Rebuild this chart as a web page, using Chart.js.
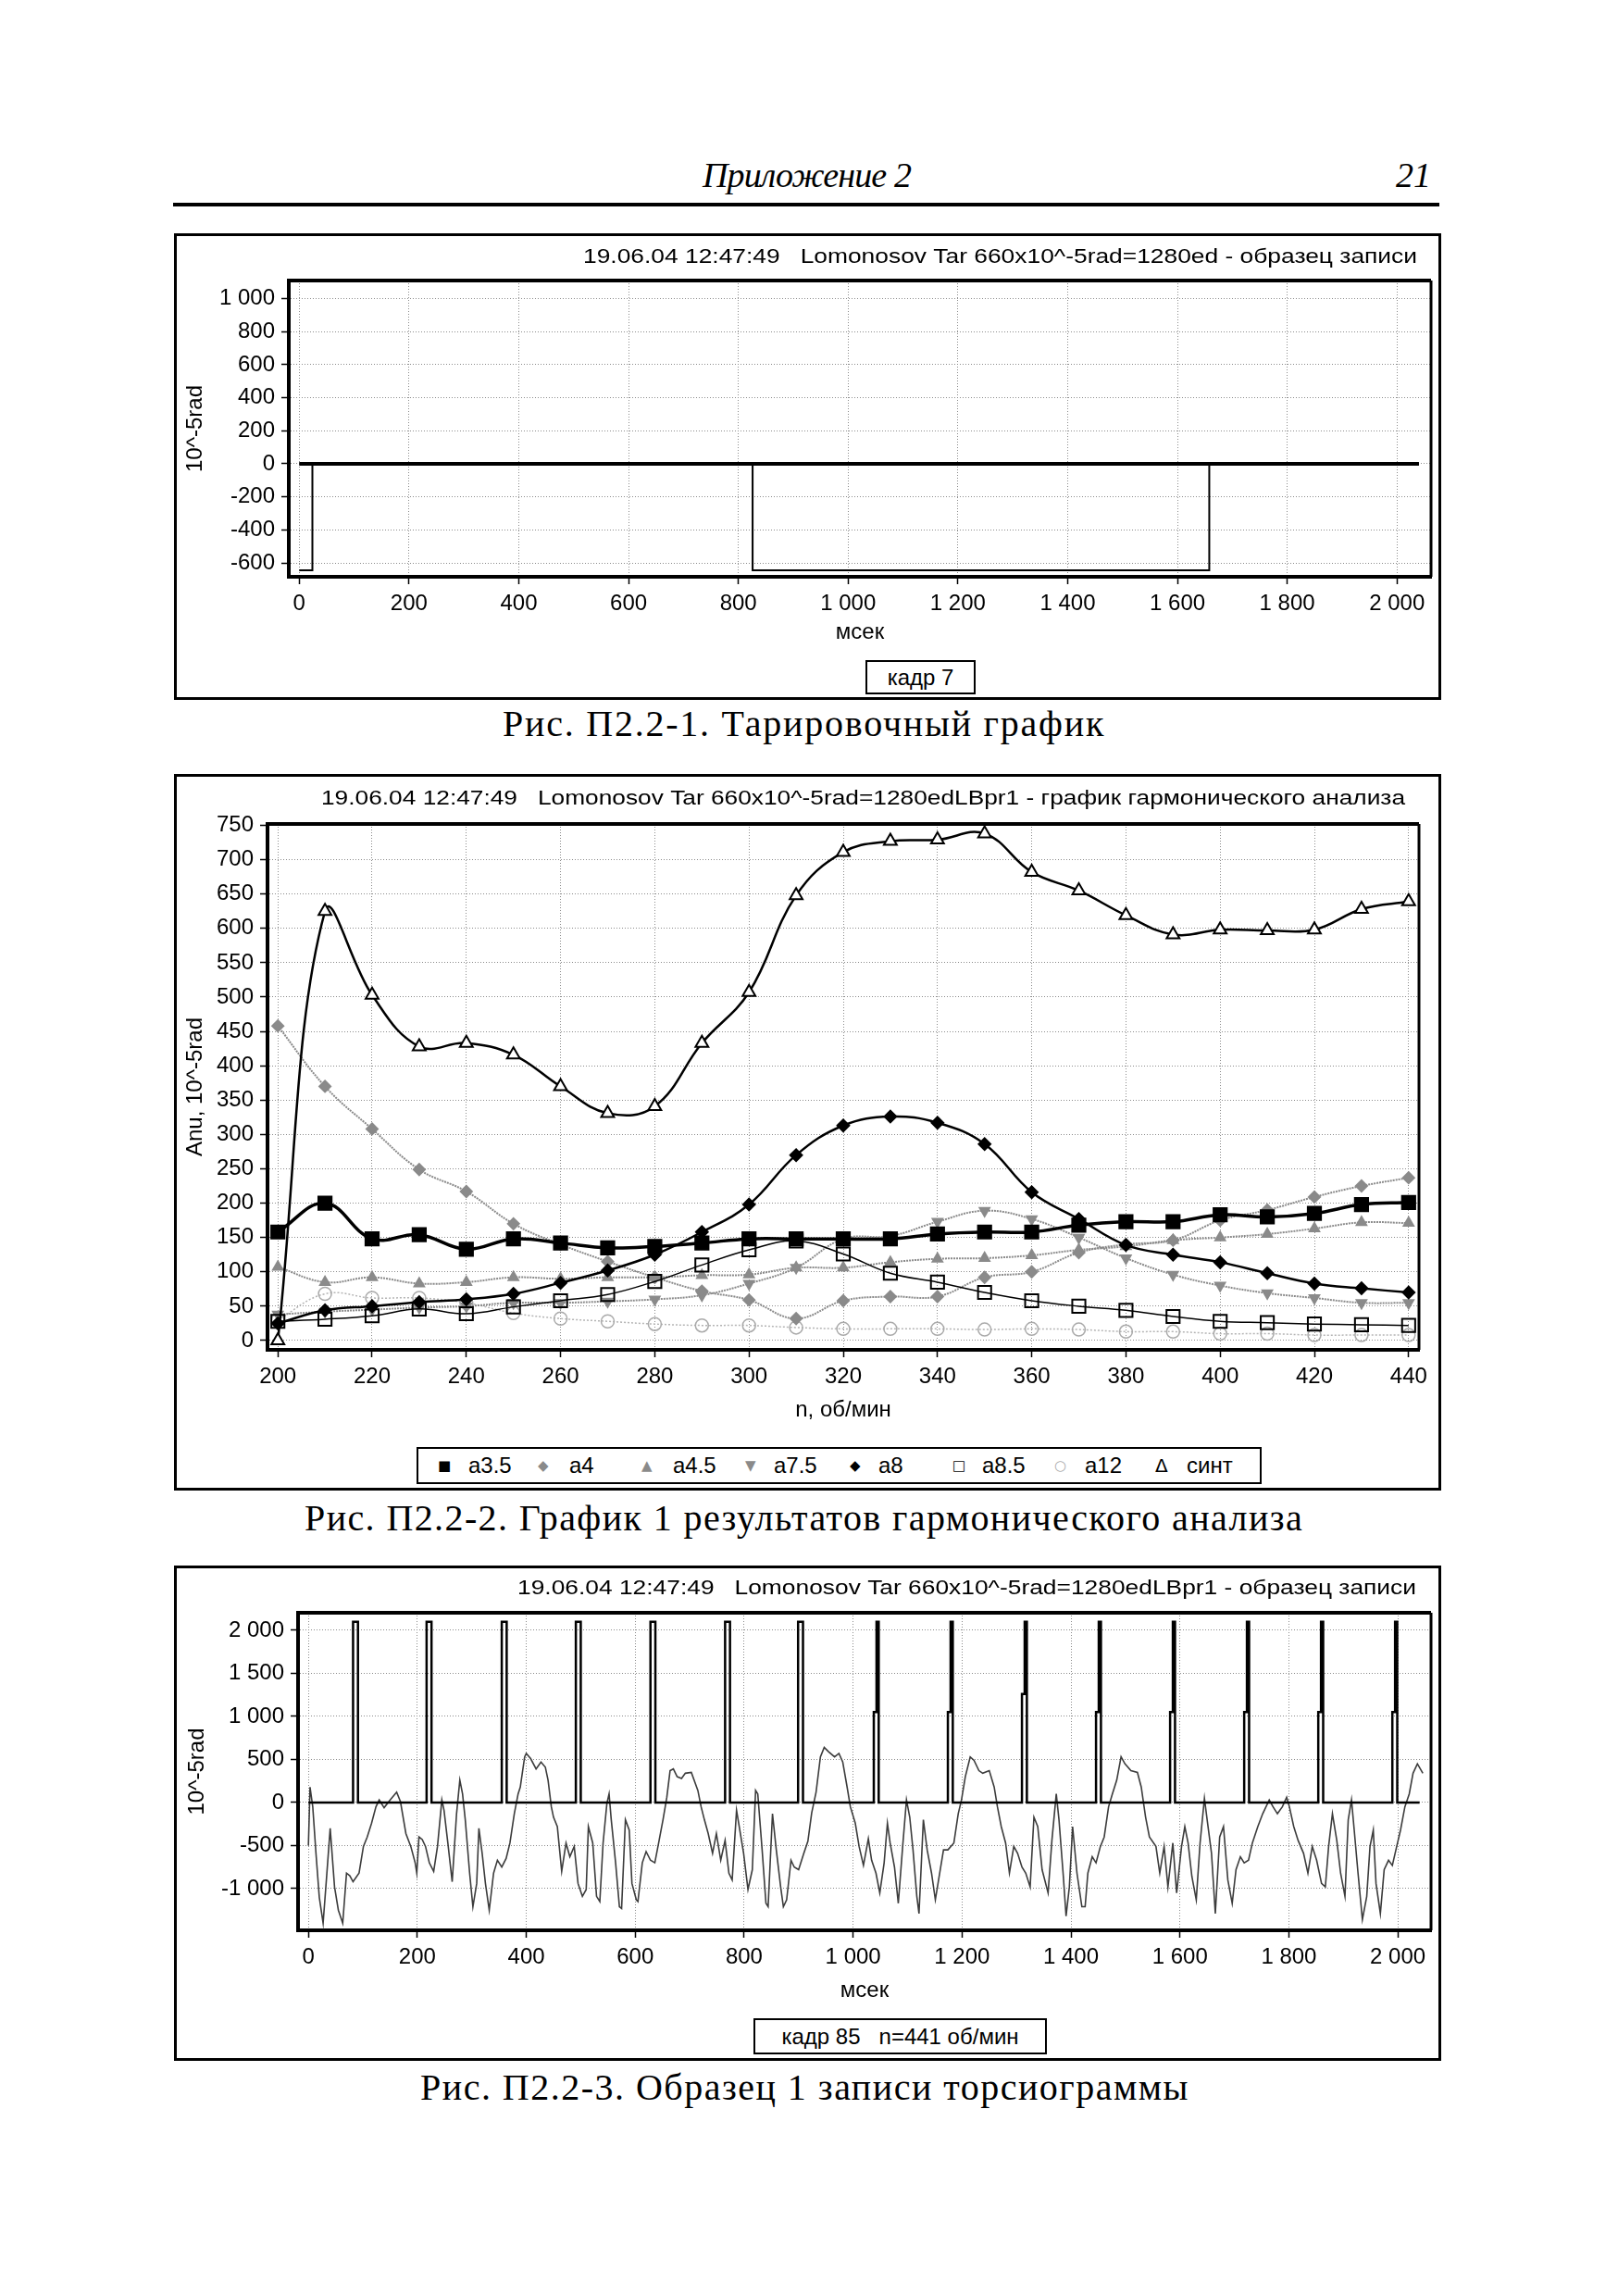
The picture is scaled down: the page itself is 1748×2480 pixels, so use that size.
<!DOCTYPE html>
<html lang="ru">
<head>
<meta charset="utf-8">
<title>Приложение 2</title>
<script src="https://cdn.jsdelivr.net/npm/chart.js@4.4.1/dist/chart.umd.min.js"></script>
<style>
  html, body { margin: 0; padding: 0; background: #fff; }
  body { width: 1748px; height: 2480px; position: relative; overflow: hidden;
         font-family: "Liberation Sans", Arial, sans-serif; color: #000; }
  .serif { position: absolute; font-family: "Liberation Serif", "Times New Roman", serif;
           white-space: nowrap; line-height: 1; }
  .hdr { font-style: italic; font-size: 38px; }
  .cap { font-size: 40px; }
  .rule { position: absolute; left: 187px; top: 219px; width: 1368px; height: 4px; background: #000; }
  .box { position: absolute; left: 188px; width: 1363px; border: 3px solid #000; }
  .box canvas { position: absolute; left: 0; top: 0; }
  .lg { position: absolute; border: 2px solid #000; font-size: 24px; white-space: pre;
        line-height: 1; box-sizing: border-box; background: #fff; }
  .lg.c { display: flex; align-items: center; justify-content: center; }
  .lg span { position: absolute; top: 50%; transform: translateY(-50%); }
  .lg .s { font-size: 15px; font-family: "DejaVu Sans", sans-serif; }
</style>
</head>
<body>

<div class="serif hdr" id="hdr" style="left:759px; top:170px;">Приложение 2</div>
<div class="serif hdr" id="pg" style="left:1508px; top:170px;">21</div>
<div class="rule"></div>

<div class="box" style="top:252px; height:498px;"><canvas id="c1" width="1363" height="498"></canvas></div>
<div class="lg c" style="left:935px; top:713px; width:119px; height:37px;">кадр 7</div>
<div class="serif cap" id="cap1" style="left:543px; top:762px;">Рис. П2.2-1. Тарировочный график</div>

<div class="box" style="top:836px; height:768px;"><canvas id="c2" width="1363" height="768"></canvas></div>
<div class="lg" id="lg2" style="left:450px; top:1563px; width:913px; height:40px;"></div>
<div class="serif cap" id="cap2" style="left:329px; top:1620px;">Рис. П2.2-2. График 1 результатов гармонического анализа</div>

<div class="box" style="top:1691px; height:529px;"><canvas id="c3" width="1363" height="529"></canvas></div>
<div class="lg c" style="left:814px; top:2180px; width:317px; height:39px;">кадр 85   n=441 об/мин</div>
<div class="serif cap" id="cap3" style="left:454px; top:2235px;">Рис. П2.2-3. Образец 1 записи торсиограммы</div>

<script>
// ---- data: chart 1 (tarirovka) ----
const c1ZeroT = [0, 2040];
const c1ZeroV = [0, 0];
const c1MarkT = [0, 24, 24, 826, 826, 1658, 1658, 2040];
const c1MarkV = [-645, -645, 0, 0, -645, -645, 0, 0];
const msTicks = [0, 200, 400, 600, 800, 1000, 1200, 1400, 1600, 1800, 2000];
const c1YTicks = [-600, -400, -200, 0, 200, 400, 600, 800, 1000];

// ---- data: chart 2 (harmonic analysis) ----
const rpm = [200, 210, 220, 230, 240, 250, 260, 270, 280, 290, 300, 310, 320, 330, 340, 350, 360, 370, 380, 390, 400, 410, 420, 430, 440];
const a35  = [158, 200, 148, 154, 133, 148, 142, 135, 137, 142, 148, 148, 148, 148, 155, 158, 158, 168, 173, 173, 183, 180, 185, 198, 201];
const a4   = [458, 370, 308, 249, 217, 170, 140, 115, 92, 72, 59, 32, 58, 64, 64, 92, 100, 128, 140, 146, 175, 190, 209, 225, 237];
const a45  = [107, 85, 92, 83, 85, 92, 90, 92, 92, 95, 96, 106, 106, 114, 119, 120, 124, 132, 137, 146, 150, 155, 163, 172, 171];
const a75  = [38, 42, 45, 48, 50, 55, 55, 57, 60, 66, 83, 106, 148, 152, 173, 189, 177, 150, 120, 96, 80, 69, 62, 55, 55];
const a8   = [25, 44, 50, 56, 60, 68, 84, 102, 125, 158, 198, 270, 313, 326, 317, 286, 216, 177, 139, 125, 114, 98, 83, 76, 70];
const a85  = [28, 31, 36, 46, 39, 49, 58, 67, 86, 110, 132, 145, 126, 98, 85, 70, 58, 50, 44, 35, 28, 26, 24, 23, 22];
const a12  = [30, 68, 62, 62, 55, 40, 32, 28, 24, 22, 22, 19, 17, 17, 17, 16, 17, 16, 13, 13, 10, 10, 8, 8, 8];
const sint = [0, 625, 503, 428, 433, 416, 370, 331, 341, 433, 507, 648, 711, 727, 729, 738, 682, 655, 619, 591, 598, 597, 598, 628, 639];
const rpmTicks = [200, 220, 240, 260, 280, 300, 320, 340, 360, 380, 400, 420, 440];
const c2YTicks = [0, 50, 100, 150, 200, 250, 300, 350, 400, 450, 500, 550, 600, 650, 700, 750];

// ---- data: chart 3 (torsiogram) ----
const pulseStart = [82, 217, 355, 491, 628, 765, 899, 1038, 1174, 1310, 1446, 1582, 1718, 1854, 1990];
const pulseKnee  = [2100, 2100, 2100, 2100, 2100, 2100, 2100, 1050, 1050, 1260, 1050, 1050, 1050, 1050, 1050];
const pulseTop = 2100;
const pulseEnd = 2040;
const c3YTicks = [-1000, -500, 0, 500, 1000, 1500, 2000];
const waveT = [0, 3, 8, 14, 20, 27, 33, 40, 48, 55, 63, 70, 76, 82, 93, 101, 108, 116, 124, 130, 139, 150, 162, 169, 179, 188, 196, 199,
  203, 209, 215, 222, 230, 237, 245, 249, 256, 264, 272, 278, 283, 288, 296, 302, 309, 313, 319, 325, 332, 340, 347, 355, 363, 370, 378,
  385, 389, 397, 400, 408, 418, 427, 435, 440, 446, 450, 457, 465, 473, 480, 488, 495, 503, 510, 514, 522, 529, 535, 541, 548, 552, 556,
  564, 571, 575, 582, 589, 594, 602, 605, 613, 620, 628, 636, 643, 651, 658, 664, 670, 677, 685, 692, 703, 715, 721, 727, 734, 742, 749,
  757, 765, 772, 778, 786, 791, 799, 807, 815, 821, 825, 833, 840, 844, 852, 859, 867, 872, 878, 886, 892, 900, 909, 917, 924,
  932, 940, 947, 955, 966, 974, 981, 989, 995, 1004, 1011, 1019, 1028, 1034, 1042, 1049, 1057, 1063, 1068, 1076, 1083, 1091, 1098, 1104,
  1110, 1117, 1121, 1129, 1136, 1144, 1151, 1159, 1166, 1174, 1185, 1193, 1199, 1206, 1215, 1222, 1231, 1238, 1250, 1259, 1265, 1272,
  1280, 1287, 1295, 1302, 1310, 1317, 1325, 1332, 1339, 1347, 1358, 1365, 1373, 1378, 1386, 1391, 1397, 1403, 1411, 1420, 1426, 1431,
  1439, 1446, 1454, 1461, 1469, 1476, 1484, 1492, 1499, 1510, 1522, 1529, 1537, 1544, 1556, 1563, 1571, 1578, 1587, 1594, 1603, 1609,
  1615, 1622, 1630, 1637, 1645, 1650, 1658, 1665, 1673, 1680, 1688, 1696, 1703, 1711, 1718, 1726, 1733, 1743, 1752, 1764, 1771, 1779,
  1788, 1796, 1801, 1809, 1817, 1827, 1835, 1843, 1851, 1860, 1867, 1873, 1880, 1888, 1895, 1903, 1909, 1915, 1920, 1927, 1935, 1943,
  1949, 1955, 1960, 1968, 1975, 1983, 1990, 1998, 2005, 2013, 2021, 2028, 2036, 2046];
const waveV = [-500, 180, -50, -600, -1100, -1400, -900, -300, -980, -1250, -1400, -820, -850, -920, -820, -510, -400, -240, -50, 30, -60, 30, 120, 10, -360, -510, -700, -820,
  -400, -430, -510, -700, -800, -510, 30, -90, -470, -920, -130, 260, 100, -200, -820, -1210, -940, -300, -590, -940, -1250, -820, -670, -750, -650, -470, -130,
  100, 180, 530, 570, 510, 390, 470, 410, 260, -50, -170, -280, -800, -470, -630, -510, -940, -1090, -1010, -280, -470, -1090, -1150, -470, -10, 100, -200,
  -700, -1210, -1230, -200, -320, -940, -1130, -1150, -700, -570, -670, -700, -470, -200, 60, 370, 390, 300, 280, 340, 350, 140, -50, -200, -360, -590, -360,
  -670, -440, -820, -900, -90, -280, -590, -1010, -780, 140, 100, -550, -1170, -1210, -130, -550, -980, -1210, -1130, -670, -750, -780, -600, -450, -120,
  120, 530, 640, 590, 530, 570, 470, 180, -50, -240, -510, -730, -420, -670, -820, -1050, -700, -240, -470, -750, -1170, -510, 30, -170,
  -550, -1090, -1290, -200, -550, -820, -1130, -820, -550, -550, -470, -130, 30, 300, 530, 490, 370, 340, 370, 180, -50, -280,
  -470, -820, -510, -590, -750, -820, -980, -170, -280, -780, -1050, -440, 100, -200, -860, -1320, -980, -280, -820, -1210, -1210, -820,
  -630, -700, -510, -400, -50, 100, 260, 530, 450, 370, 350, 180, -170, -400, -510, -820, -510, -980, -470, -1050, -510, -280,
  -470, -860, -1130, -470, 50, -200, -590, -1290, -400, -280, -900, -1170, -780, -630, -700, -670, -470, -280, -130, 30, -50, -130,
  -50, 60, -50, -280, -440, -590, -820, -510, -670, -940, -980, -510, -130, -440, -820, -1090, -200, 30, -320, -820, -1360, -1090,
  -510, -320, -940, -1290, -780, -670, -730, -510, -320, -50, 100, 340, 450, 340];

// ---- helpers ----
Chart.defaults.font.family = '"Liberation Sans", Arial, sans-serif';
Chart.defaults.font.size = 24;
Chart.defaults.color = '#000';

function fmt(v) {
  const s = String(Math.abs(v)).replace(/\B(?=(\d{3})+(?!\d))/g, ' ');
  return (v < 0 ? '-' : '') + s;
}

function pts(xs, ys) {
  return xs.map((x, i) => ({ x: x, y: ys[i] }));
}

function axis(min, max, tickVals, title, size, titlePad) {
  return {
    type: 'linear', min: min, max: max,
    afterBuildTicks(s) { s.ticks = tickVals.map(v => ({ value: v })); },
    ticks: { autoSkip: false, maxRotation: 0, padding: 7, callback: v => fmt(v) },
    grid: { color: '#8c8c8c', lineWidth: 1, tickColor: '#000', tickLength: 8, tickWidth: 1.5 },
    border: { display: true, color: '#000', width: 4, dash: [1, 2] },
    title: { display: true, text: title, padding: titlePad },
    afterFit(s) { if (s.isHorizontal()) s.height = size; else s.width = size; }
  };
}

// top/right frame of the plot and the chart heading
const framePlugin = {
  id: 'frame',
  afterDraw(chart, args, o) {
    const a = chart.chartArea, ctx = chart.ctx;
    ctx.save();
    ctx.strokeStyle = '#000';
    ctx.lineWidth = 4;
    ctx.beginPath(); ctx.moveTo(a.left - 2, a.top); ctx.lineTo(a.right, a.top); ctx.stroke();
    ctx.lineWidth = 3;
    ctx.beginPath(); ctx.moveTo(a.right, a.top); ctx.lineTo(a.right, a.bottom); ctx.stroke();
    if (o.text) {
      ctx.font = '22px "Liberation Sans", Arial, sans-serif';
      ctx.fillStyle = '#000';
      ctx.textAlign = 'right';
      ctx.textBaseline = 'middle';
      const w = ctx.measureText(o.text).width;
      ctx.translate(o.right, o.y);
      ctx.scale(o.width / w, 1);
      ctx.fillText(o.text, 0, 0);
    }
    ctx.restore();
  }
};

function baseOpts(pad, frame) {
  return {
    responsive: false, animation: false, events: [],
    layout: { padding: pad },
    plugins: { legend: { display: false }, tooltip: { enabled: false }, frame: frame },
    elements: { line: { tension: 0 }, point: { radius: 0 } }
  };
}

// ---- chart 1 ----
const o1 = baseOpts({ left: 0, right: 8, top: 48, bottom: 55.6 },
  { text: '19.06.04 12:47:49   Lomonosov Tar 660x10^-5rad=1280ed - образец записи', right: 1340, y: 23, width: 901 });
o1.scales = {
  x: axis(-19, 2062, msTicks, 'мсек', 74.4, { top: 0, bottom: 0 }),
  y: axis(-684, 1110, c1YTicks, '10^-5rad', 121, { top: 6, bottom: 0 })
};
new Chart(document.getElementById('c1'), {
  type: 'line',
  data: { datasets: [
    { data: pts(c1ZeroT, c1ZeroV), borderColor: '#000', borderWidth: 4, pointRadius: 0 },
    { data: pts(c1MarkT, c1MarkV), borderColor: '#000', borderWidth: 2, pointRadius: 0 }
  ] },
  options: o1,
  plugins: [framePlugin]
});

// ---- chart 2 ----
const o2 = baseOpts({ left: 0, right: 21, top: 51, bottom: 69.6 },
  { text: '19.06.04 12:47:49   Lomonosov Tar 660x10^-5rad=1280edLBpr1 - график гармонического анализа', right: 1327, y: 24, width: 1171 });
o2.scales = {
  x: axis(197.8, 442.2, rpmTicks, 'n, об/мин', 79.4, { top: 0, bottom: 0 }),
  y: axis(-13.5, 752, c2YTicks, 'Anu, 10^-5rad', 98, { top: 6, bottom: 0 })
};
o2.elements.line.tension = 0.4;
const gray = '#8a8a8a';
new Chart(document.getElementById('c2'), {
  type: 'line',
  data: { datasets: [
    { label: 'синт', data: pts(rpm, sint), borderColor: '#000', borderWidth: 2.5,
      pointStyle: 'triangle', pointRadius: 8, pointBackgroundColor: '#fff', pointBorderColor: '#000', pointBorderWidth: 2 },
    { label: 'a3.5', data: pts(rpm, a35), borderColor: '#000', borderWidth: 3.5,
      pointStyle: 'rect', pointRadius: 9, pointBackgroundColor: '#000', pointBorderColor: '#000' },
    { label: 'a8', data: pts(rpm, a8), borderColor: '#000', borderWidth: 2.5,
      pointStyle: 'rectRot', pointRadius: 6, pointBackgroundColor: '#000', pointBorderColor: '#000' },
    { label: 'a8.5', data: pts(rpm, a85), borderColor: '#000', borderWidth: 1.5,
      pointStyle: 'rect', pointRadius: 10, pointBackgroundColor: 'rgba(255,255,255,0)', pointBorderColor: '#000', pointBorderWidth: 2 },
    { label: 'a4', data: pts(rpm, a4), borderColor: gray, borderWidth: 2, borderDash: [2, 1],
      pointStyle: 'rectRot', pointRadius: 6, pointBackgroundColor: gray, pointBorderColor: gray },
    { label: 'a4.5', data: pts(rpm, a45), borderColor: gray, borderWidth: 2, borderDash: [2, 1],
      pointStyle: 'triangle', pointRadius: 6, pointBackgroundColor: gray, pointBorderColor: gray },
    { label: 'a7.5', data: pts(rpm, a75), borderColor: gray, borderWidth: 2, borderDash: [2, 1],
      pointStyle: 'triangle', pointRotation: 180, pointRadius: 6, pointBackgroundColor: gray, pointBorderColor: gray },
    { label: 'a12', data: pts(rpm, a12), borderColor: '#b4b4b4', borderWidth: 1.5, borderDash: [2, 2],
      pointStyle: 'circle', pointRadius: 7, pointBackgroundColor: 'rgba(255,255,255,0)', pointBorderColor: '#aaa', pointBorderWidth: 1.5 }
  ] },
  options: o2,
  plugins: [framePlugin]
});

// legend of chart 2 (symbol, colour, label)
const lgSym = ['■', '◆', '▲', '▼', '◆', '□', '○', 'Δ'];
const lgCol = ['#000', gray, gray, gray, '#000', '#000', '#aaa', '#000'];
const lgTxt = ['a3.5', 'a4', 'a4.5', 'a7.5', 'a8', 'a8.5', 'a12', 'синт'];
const lgSymX = [21, 129, 241, 353, 466, 577, 687, 796];
const lgTxtX = [54, 163, 275, 384, 497, 609, 720, 830];
const lg2 = document.getElementById('lg2');
lgTxt.forEach((t, i) => {
  const s = document.createElement('span');
  s.className = 's'; s.textContent = lgSym[i]; s.style.left = lgSymX[i] + 'px'; s.style.color = lgCol[i];
  if (lgSym[i] === 'Δ') s.style.fontSize = '20px';
  lg2.appendChild(s);
  const l = document.createElement('span');
  l.textContent = t; l.style.left = lgTxtX[i] + 'px';
  lg2.appendChild(l);
});

// ---- chart 3 ----
const pulsePts = [{ x: 0, y: 0 }];
pulseStart.forEach((s, i) => {
  pulsePts.push({ x: s, y: 0 }, { x: s, y: pulseKnee[i] }, { x: s + 5, y: pulseKnee[i] },
                { x: s + 5, y: pulseTop }, { x: s + 9, y: pulseTop }, { x: s + 9, y: 0 });
});
pulsePts.push({ x: pulseEnd, y: 0 });

const o3 = baseOpts({ left: 0, right: 8, top: 48, bottom: 58.6 },
  { text: '19.06.04 12:47:49   Lomonosov Tar 660x10^-5rad=1280edLBpr1 - образец записи', right: 1339, y: 22, width: 971 });
o3.scales = {
  x: axis(-19, 2061, msTicks, 'мсек', 79.4, { top: 0, bottom: 0 }),
  y: axis(-1484, 2204, c3YTicks, '10^-5rad', 131, { top: 8, bottom: 0 })
};
new Chart(document.getElementById('c3'), {
  type: 'line',
  data: { datasets: [
    { data: pulsePts, borderColor: '#000', borderWidth: 2.5, pointRadius: 0 },
    { data: pts(waveT, waveV), borderColor: '#3c3c3c', borderWidth: 1.6, pointRadius: 0 }
  ] },
  options: o3,
  plugins: [framePlugin]
});

// spread printed captions to the widths of the scan
function spread(id, width) {
  const el = document.getElementById(id);
  const n = el.textContent.length;
  const w = el.getBoundingClientRect().width;
  el.style.letterSpacing = ((width - w) / n).toFixed(2) + 'px';
}
spread('hdr', 225);
spread('cap1', 651);
spread('cap2', 1079);
spread('cap3', 831);
</script>
</body>
</html>
